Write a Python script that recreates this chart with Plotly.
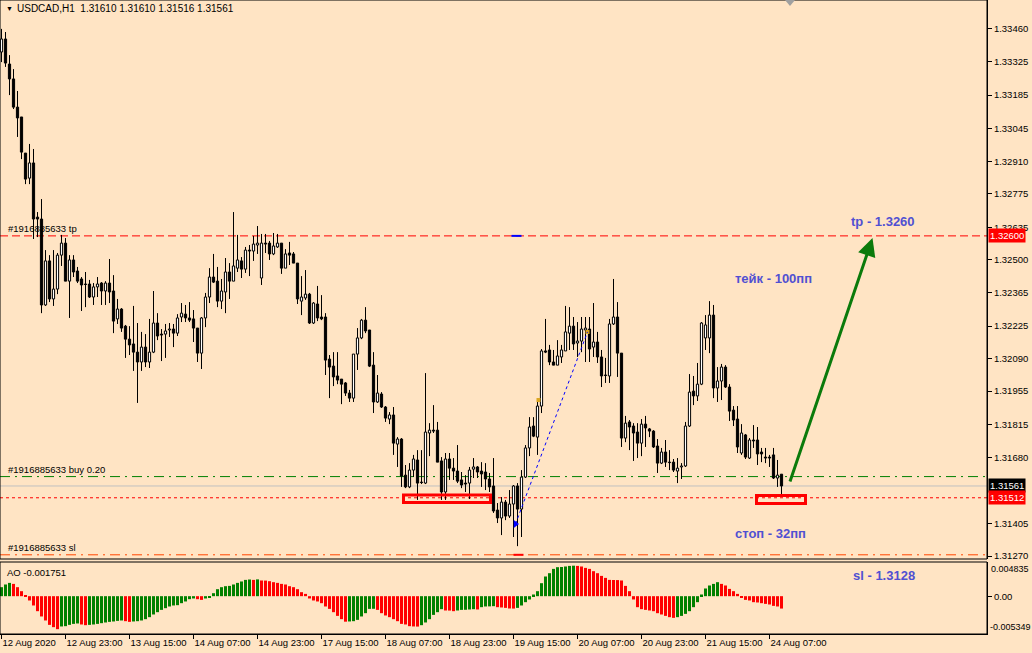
import plotly.graph_objects as go

# ---------------- data (USDCAD H1) ----------------
tick_dates = ["12 Aug 2020", "12 Aug 23:00", "13 Aug 15:00", "14 Aug 07:00", "14 Aug 23:00",
              "17 Aug 15:00", "18 Aug 07:00", "18 Aug 23:00", "19 Aug 15:00", "20 Aug 07:00",
              "20 Aug 23:00", "21 Aug 15:00", "24 Aug 07:00"]
tick_bars = [0, 16, 32, 48, 64, 80, 96, 112, 128, 144, 160, 176, 192]

O = [1.33364,1.33418,1.33314,1.33252,1.33135,1.33094,1.32944,1.32840,
     1.32903,1.32678,1.32670,1.32313,1.32496,1.32338,1.32379,1.32520,
     1.32570,1.32412,1.32500,1.32454,1.32421,1.32400,1.32400,1.32346,
     1.32388,1.32404,1.32371,1.32404,1.32371,1.32255,1.32296,1.32225,
     1.32171,1.32151,1.32117,1.32076,1.32138,1.32076,1.32117,1.32238,
     1.32192,1.32192,1.32209,1.32213,1.32196,1.32263,1.32275,1.32259,
     1.32255,1.32217,1.32113,1.32259,1.32346,1.32429,1.32412,1.32329,
     1.32367,1.32450,1.32412,1.32466,1.32496,1.32462,1.32541,1.32537,
     1.32562,1.32425,1.32570,1.32570,1.32525,1.32554,1.32570,1.32466,
     1.32529,1.32525,1.32487,1.32329,1.32342,1.32358,1.32238,1.32317,
     1.32263,1.32263,1.32088,1.32059,1.32018,1.32005,1.31989,1.31947,
     1.31926,1.32109,1.32176,1.32250,1.32209,1.32063,1.31910,1.31943,
     1.31889,1.31839,1.31856,1.31735,1.31756,1.31606,1.31557,1.31627,
     1.31669,1.31577,1.31573,1.31781,1.31793,1.31793,1.31665,1.31536,
     1.31673,1.31635,1.31623,1.31586,1.31573,1.31573,1.31631,1.31640,
     1.31623,1.31619,1.31590,1.31561,1.31461,1.31428,1.31494,1.31436,
     1.31486,1.31561,1.31465,1.31598,1.31719,1.31810,1.31764,1.31893,
     1.32122,1.32126,1.32076,1.32063,1.32097,1.32122,1.32196,1.32225,
     1.32155,1.32163,1.32209,1.32213,1.32138,1.32159,1.32097,1.32022,
     1.32018,1.32234,1.32263,1.32113,1.31760,1.31827,1.31810,1.31785,
     1.31739,1.31818,1.31798,1.31789,1.31727,1.31656,1.31702,1.31660,
     1.31660,1.31623,1.31640,1.31644,1.31810,1.31955,1.31935,1.31984,
     1.32176,1.32176,1.32271,1.31968,1.31997,1.32055,1.31972,1.31876,
     1.31839,1.31698,1.31773,1.31677,1.31752,1.31752,1.31702,1.31681,
     1.31681,1.31690,1.31594,1.31610]

H = [1.33460,1.33447,1.33351,1.33293,1.33202,1.33094,1.32944,1.32982,
     1.32961,1.32699,1.32753,1.32541,1.32520,1.32541,1.32529,1.32604,
     1.32591,1.32520,1.32520,1.32471,1.32429,1.32450,1.32417,1.32404,
     1.32429,1.32408,1.32412,1.32504,1.32437,1.32338,1.32300,1.32230,
     1.32225,1.32309,1.32238,1.32201,1.32192,1.32255,1.32371,1.32279,
     1.32213,1.32234,1.32238,1.32234,1.32275,1.32321,1.32313,1.32325,
     1.32292,1.32217,1.32263,1.32363,1.32466,1.32525,1.32471,1.32421,
     1.32508,1.32487,1.32699,1.32604,1.32512,1.32554,1.32562,1.32600,
     1.32641,1.32608,1.32608,1.32579,1.32612,1.32608,1.32570,1.32545,
     1.32575,1.32533,1.32487,1.32433,1.32458,1.32363,1.32325,1.32392,
     1.32354,1.32279,1.32105,1.32117,1.32117,1.32005,1.31993,1.31960,
     1.32109,1.32217,1.32255,1.32304,1.32209,1.32117,1.32022,1.31951,
     1.31893,1.31868,1.31889,1.31764,1.31760,1.31648,1.31656,1.31690,
     1.31710,1.31710,1.32030,1.31822,1.31897,1.31827,1.31681,1.31698,
     1.31698,1.31677,1.31731,1.31619,1.31606,1.31640,1.31677,1.31644,
     1.31660,1.31656,1.31615,1.31677,1.31490,1.31515,1.31503,1.31544,
     1.31565,1.31573,1.31627,1.31731,1.31847,1.31847,1.31918,1.32130,
     1.32255,1.32147,1.32126,1.32167,1.32147,1.32309,1.32304,1.32263,
     1.32242,1.32263,1.32263,1.32263,1.32321,1.32201,1.32126,1.32093,
     1.32255,1.32421,1.32325,1.32113,1.31852,1.31835,1.31822,1.31822,
     1.31839,1.31852,1.31802,1.31793,1.31756,1.31719,1.31752,1.31710,
     1.31673,1.31677,1.31656,1.31827,1.32026,1.32018,1.32072,1.32242,
     1.32271,1.32329,1.32313,1.32055,1.32068,1.32063,1.31984,1.31893,
     1.31893,1.31818,1.31777,1.31760,1.31814,1.31806,1.31719,1.31719,
     1.31690,1.31719,1.31669,1.31610]

L = [1.33322,1.33302,1.33185,1.33127,1.33011,1.32919,1.32815,1.32815,
     1.32587,1.32595,1.32279,1.32309,1.32325,1.32309,1.32358,1.32475,
     1.32412,1.32259,1.32429,1.32404,1.32288,1.32304,1.32342,1.32313,
     1.32346,1.32313,1.32313,1.32321,1.32196,1.32234,1.32201,1.32093,
     1.32105,1.32039,1.31906,1.32039,1.32055,1.32051,1.32113,1.32167,
     1.32080,1.32093,1.32180,1.32138,1.32184,1.32242,1.32242,1.32242,
     1.32159,1.32076,1.32047,1.32221,1.32321,1.32404,1.32304,1.32296,
     1.32279,1.32338,1.32412,1.32450,1.32425,1.32446,1.32433,1.32496,
     1.32525,1.32396,1.32529,1.32500,1.32520,1.32550,1.32442,1.32466,
     1.32479,1.32487,1.32317,1.32271,1.32334,1.32234,1.32234,1.32246,
     1.32250,1.32022,1.31926,1.31976,1.31984,1.31901,1.31935,1.31910,
     1.31910,1.32043,1.32171,1.32196,1.32055,1.31864,1.31906,1.31885,
     1.31827,1.31818,1.31690,1.31640,1.31557,1.31552,1.31552,1.31598,
     1.31503,1.31569,1.31569,1.31685,1.31781,1.31660,1.31503,1.31503,
     1.31586,1.31586,1.31573,1.31552,1.31536,1.31507,1.31594,1.31594,
     1.31557,1.31544,1.31536,1.31449,1.31407,1.31357,1.31419,1.31428,
     1.31349,1.31311,1.31349,1.31594,1.31685,1.31764,1.31690,1.31864,
     1.32113,1.32063,1.32063,1.32063,1.32072,1.32122,1.32126,1.32126,
     1.32097,1.32117,1.32076,1.32076,1.32097,1.32072,1.31972,1.31989,
     1.31989,1.32230,1.32014,1.31723,1.31743,1.31710,1.31665,1.31677,
     1.31685,1.31723,1.31764,1.31719,1.31615,1.31652,1.31640,1.31627,
     1.31619,1.31573,1.31590,1.31640,1.31806,1.31897,1.31914,1.31980,
     1.32126,1.32113,1.31926,1.31910,1.31918,1.31968,1.31831,1.31810,
     1.31698,1.31690,1.31673,1.31673,1.31719,1.31648,1.31660,1.31656,
     1.31640,1.31590,1.31557,1.31516]

C = [1.33418,1.33318,1.33252,1.33135,1.33090,1.32948,1.32836,1.32903,
     1.32670,1.32670,1.32313,1.32496,1.32338,1.32379,1.32520,1.32570,
     1.32412,1.32500,1.32450,1.32412,1.32396,1.32398,1.32346,1.32388,
     1.32400,1.32371,1.32404,1.32367,1.32246,1.32296,1.32217,1.32171,
     1.32147,1.32117,1.32076,1.32138,1.32076,1.32117,1.32238,1.32184,
     1.32188,1.32205,1.32213,1.32196,1.32259,1.32279,1.32259,1.32250,
     1.32217,1.32113,1.32259,1.32346,1.32429,1.32408,1.32329,1.32371,
     1.32450,1.32412,1.32475,1.32500,1.32462,1.32541,1.32537,1.32566,
     1.32570,1.32570,1.32566,1.32525,1.32558,1.32570,1.32466,1.32525,
     1.32520,1.32487,1.32338,1.32346,1.32358,1.32238,1.32321,1.32259,
     1.32255,1.32084,1.32055,1.32014,1.32001,1.31984,1.31947,1.31926,
     1.32109,1.32176,1.32250,1.32205,1.32059,1.31910,1.31947,1.31889,
     1.31843,1.31856,1.31739,1.31756,1.31602,1.31557,1.31627,1.31673,
     1.31573,1.31575,1.31785,1.31793,1.31789,1.31660,1.31536,1.31673,
     1.31635,1.31623,1.31581,1.31565,1.31569,1.31627,1.31640,1.31619,
     1.31611,1.31590,1.31557,1.31457,1.31428,1.31494,1.31436,1.31486,
     1.31561,1.31465,1.31598,1.31719,1.31806,1.31768,1.31893,1.32122,
     1.32117,1.32076,1.32063,1.32101,1.32126,1.32201,1.32225,1.32151,
     1.32163,1.32213,1.32217,1.32130,1.32159,1.32097,1.32018,1.32020,
     1.32234,1.32263,1.32113,1.31760,1.31822,1.31806,1.31781,1.31739,
     1.31818,1.31802,1.31789,1.31723,1.31656,1.31702,1.31660,1.31658,
     1.31627,1.31635,1.31644,1.31810,1.31951,1.31935,1.31984,1.32238,
     1.32230,1.32271,1.31968,1.31997,1.32055,1.31972,1.31872,1.31835,
     1.31723,1.31781,1.31681,1.31752,1.31748,1.31694,1.31694,1.31677,
     1.31677,1.31594,1.31606,1.31561]

AO = [0.001273,0.001654,0.001881,0.001739,0.001273,0.000707,0.000141,-0.000608,
      -0.001315,-0.002121,-0.002870,-0.003436,-0.004058,-0.004383,-0.004666,-0.004284,
      -0.004242,-0.004058,-0.003917,-0.003860,-0.004002,-0.004101,-0.004058,-0.004002,
      -0.003917,-0.003818,-0.003719,-0.003634,-0.003577,-0.003493,-0.003436,-0.003535,
      -0.003634,-0.003577,-0.003535,-0.003436,-0.003252,-0.002969,-0.002588,-0.002262,
      -0.001937,-0.001697,-0.001456,-0.001315,-0.001273,-0.000990,-0.000749,-0.000424,
      -0.000325,-0.000424,-0.000523,-0.000325,-0.000141,0.000424,0.000990,0.001273,
      0.001414,0.001456,0.001654,0.001881,0.002079,0.002305,0.002361,0.002305,
      0.002376,0.002220,0.002206,0.002121,0.001980,0.001881,0.001739,0.001654,
      0.001414,0.001273,0.000990,0.000566,0.000325,-0.000325,-0.000608,-0.000749,
      -0.000990,-0.001456,-0.001796,-0.002262,-0.002786,-0.003252,-0.003606,-0.003577,
      -0.003535,-0.003351,-0.002870,-0.002404,-0.001796,-0.001782,-0.001937,-0.002404,
      -0.002729,-0.002969,-0.003252,-0.003535,-0.003917,-0.004002,-0.004242,-0.004284,
      -0.004299,-0.004101,-0.003719,-0.003252,-0.002644,-0.002262,-0.001838,-0.002022,
      -0.002036,-0.002121,-0.002022,-0.001937,-0.001923,-0.001881,-0.001838,-0.001881,
      -0.001555,-0.001456,-0.001442,-0.001414,-0.001555,-0.001598,-0.001654,-0.001739,
      -0.001753,-0.001654,-0.001315,-0.000848,-0.000467,0.000240,0.000707,0.001838,
      0.002786,0.003252,0.003860,0.004101,0.004129,0.004200,0.004284,0.004313,
      0.004284,0.004200,0.004002,0.003860,0.003535,0.003252,0.002870,0.002588,
      0.002305,0.002291,0.002277,0.002220,0.001456,0.000707,-0.000467,-0.001555,
      -0.001838,-0.001937,-0.002022,-0.002121,-0.002404,-0.002588,-0.002786,-0.002969,
      -0.003068,-0.002969,-0.002786,-0.002503,-0.002121,-0.001555,-0.000848,0.000240,
      0.001089,0.001513,0.001739,0.001980,0.001739,0.001513,0.001032,0.000707,
      0.000325,-0.000141,-0.000523,-0.000608,-0.000848,-0.000891,-0.000990,-0.001089,
      -0.001174,-0.001372,-0.001456,-0.001751]

price_ticks = [1.33460, 1.33325, 1.33185, 1.33045, 1.32910, 1.32775, 1.32635, 1.32500,
               1.32365, 1.32225, 1.32090, 1.31955, 1.31815, 1.31680, 1.31405, 1.31270]
ao_max, ao_min = 0.004835, -0.005349

order_id = "#1916885633"
tp_price, buy_price, sl_price, stop_line = 1.32600, 1.31600, 1.31275, 1.31512
# support zones (bar from, bar to, price low, price high)
zones = [(100.5, 122.25, 1.31492, 1.31524), (188.75, 201.0, 1.31488, 1.31521)]
# forecast arrow (bar, price) start -> end
arrow_from, arrow_to = (197.0, 1.31573), (217.75, 1.32591)
# closed trade: entry (bar, price) -> exit (bar, price)
trade_in, trade_out = (128.5, 1.31403), (146.5, 1.32201)
extra_mark = (134.25, 1.31918)

# ---------------- figure ----------------
BG = "#FFE4C4"
FONT = "Liberation Sans"
BLUE_TXT = "#5050D2"
TS = 9.5   # axis / label text size
n = len(C)
idx = list(range(n))

# wicks split so they don't cross bodies
wx, wy = [], []
for i in range(n):
    top, bot = max(O[i], C[i]), min(O[i], C[i])
    if H[i] > top:
        wx += [i, i, None]; wy += [H[i], top, None]
    if L[i] < bot:
        wx += [i, i, None]; wy += [bot, L[i], None]

bases = [min(o, c) for o, c in zip(O, C)]
heights = [max(abs(c - o), 0.000004) for o, c in zip(O, C)]
body_col = ["white" if c >= o else "black" for o, c in zip(O, C)]
ao_col = ["#008000" if (i == 0 or AO[i] > AO[i - 1]) else "#FF0000" for i in range(n)]

fig = go.Figure()
fig.add_trace(go.Bar(x=idx, y=heights, base=bases, width=0.55,
                     marker=dict(color=body_col, line=dict(color="black", width=1)),
                     xaxis="x", yaxis="y", hoverinfo="skip"))
fig.add_trace(go.Scatter(x=wx, y=wy, mode="lines", line=dict(color="black", width=1),
                         xaxis="x", yaxis="y", hoverinfo="skip"))
fig.add_trace(go.Bar(x=idx, y=AO, width=0.75, marker=dict(color=ao_col, line=dict(width=0)),
                     xaxis="x2", yaxis="y2", hoverinfo="skip"))
# trade markers
fig.add_trace(go.Scatter(x=[trade_in[0]], y=[trade_in[1]], mode="markers",
                         marker=dict(symbol="triangle-right", size=7, color="#0000FF"),
                         xaxis="x", yaxis="y", hoverinfo="skip"))
fig.add_trace(go.Scatter(x=[trade_out[0], extra_mark[0]], y=[trade_out[1], extra_mark[1]], mode="markers",
                         marker=dict(symbol="square", size=4, color="#DAA520"),
                         xaxis="x", yaxis="y", hoverinfo="skip"))

PD0 = 75 / 634    # price panel bottom (paper)
AD1 = 72 / 634    # AO panel top (paper)

shapes = []
def hline(y, color, dash, width=1):
    shapes.append(dict(type="line", xref="paper", x0=0, x1=1, yref="y", y0=y, y1=y,
                       line=dict(color=color, width=width, dash=dash), layer="below"))
hline(tp_price, "#FF0000", "8px,4px")
hline(buy_price, "#008000", "10px,5px,2px,5px")
hline(C[-1], "#C0C0C0", "solid")
hline(stop_line, "#FF0000", "3px,3px")
hline(sl_price, "#FF4500", "10px,5px,2px,5px")
for (xa, xb, ya, yb) in zones:
    shapes.append(dict(type="rect", xref="x", yref="y", x0=xa, x1=xb, y0=ya, y1=yb,
                       line=dict(color="#FF0000", width=3), fillcolor="rgba(0,0,0,0)"))
shapes.append(dict(type="line", xref="x", yref="y", x0=trade_in[0], y0=trade_in[1],
                   x1=trade_out[0], y1=trade_out[1], line=dict(color="#0000FF", width=1, dash="dot")))
shapes.append(dict(type="line", xref="x", yref="y", x0=trade_in[0] - 1, x1=trade_in[0] + 1.5,
                   y0=tp_price, y1=tp_price, line=dict(color="#0000FF", width=2)))
shapes.append(dict(type="line", xref="x", yref="y", x0=trade_in[0] - 0.5, x1=trade_in[0] + 2,
                   y0=sl_price, y1=sl_price, line=dict(color="#FF0000", width=2)))
# panel frames
shapes.append(dict(type="rect", xref="paper", yref="paper", x0=0, x1=1, y0=PD0, y1=1,
                   line=dict(color="black", width=1)))
shapes.append(dict(type="rect", xref="paper", yref="paper", x0=0, x1=1, y0=0, y1=AD1,
                   line=dict(color="black", width=1)))
# chart-shift marker
shapes.append(dict(type="path", xref="paper", yref="paper",
                   path="M 0.7953,1 L 0.8055,1 L 0.8004,0.9905 Z",
                   fillcolor="#A0A0A0", line=dict(width=0)))

ann = []
def txt(x, y, s, xref="x", yref="y", size=TS, color="black", bold=False, xa="left", ya="middle", **kw):
    ann.append(dict(x=x, y=y, xref=xref, yref=yref, text=f"<b>{s}</b>" if bold else s,
                    showarrow=False, xanchor=xa, yanchor=ya,
                    font=dict(family=FONT, size=size, color=color), **kw))

txt(15 / 987, 1 - 8 / 634, f"USDCAD,H1  {O[-1]:.5f} {H[-1]:.5f} {L[-1]:.5f} {C[-1]:.5f}", xref="paper", yref="paper", size=10)
txt(4 / 987, 1 - 8 / 634, "▼", xref="paper", yref="paper", size=7)
txt(6 / 987, tp_price, f"{order_id} tp", xref="paper", ya="bottom")
txt(6 / 987, buy_price, f"{order_id} buy 0.20", xref="paper", ya="bottom")
txt(6 / 987, sl_price, f"{order_id} sl", xref="paper", ya="bottom")
txt(5 / 987, ao_max, f"AO {AO[-1]:.6f}", xref="paper", yref="y2", ya="top", yshift=-3)
txt(211.75, 1.32658, f"tp - {tp_price:.4f}", size=13, color=BLUE_TXT, bold=True)
txt(182.75, 1.32425, "тейк - 100пп", size=13, color=BLUE_TXT, bold=True)
txt(182.75, 1.31365, "стоп - 32пп", size=13, color=BLUE_TXT, bold=True)
txt(212.25, 59 / 634, f"sl - {1.3128:.4f}", yref="paper", size=13, color=BLUE_TXT, bold=True)

# right-axis price boxes
for val, bg in [(tp_price, "#FF0000"), (C[-1], "#000000"), (stop_line, "#FF0000")]:
    ann.append(dict(x=1, y=val, xref="paper", yref="y", text=f"{val:.5f}", showarrow=False,
                    xanchor="left", yanchor="middle", xshift=1, bgcolor=bg, borderpad=1,
                    font=dict(family=FONT, size=TS, color="white")))
# AO scale extremes (drawn inside like MT4)
ann.append(dict(x=1, y=ao_max, xref="paper", yref="y2", text=f"{ao_max:.6f}", showarrow=False,
                xanchor="left", yanchor="top", xshift=2, font=dict(family=FONT, size=9, color="black")))
ann.append(dict(x=1, y=ao_min, xref="paper", yref="y2", text=f"{ao_min:.6f}", showarrow=False,
                xanchor="left", yanchor="bottom", xshift=1, font=dict(family=FONT, size=9, color="black")))
# forecast arrow
ann.append(dict(x=arrow_to[0], y=arrow_to[1], ax=arrow_from[0], ay=arrow_from[1],
                xref="x", yref="y", axref="x", ayref="y", text="", showarrow=True,
                arrowhead=2, arrowsize=1.2, arrowwidth=3, arrowcolor="#0B7A0B", standoff=0))

xr = [-0.375, 246.375]
tf = dict(family=FONT, size=TS, color="black")
fig.update_layout(
    width=1032, height=653, paper_bgcolor=BG, plot_bgcolor=BG,
    margin=dict(l=0, r=45, t=0, b=19, autoexpand=False), showlegend=False, barmode="overlay",
    font=dict(family=FONT, size=TS, color="black"),
    shapes=shapes, annotations=ann,
    xaxis=dict(domain=[0, 1], range=xr, anchor="y", showticklabels=False, showgrid=False,
               zeroline=False, showline=False, ticks=""),
    yaxis=dict(domain=[PD0, 1], range=[1.312576, 1.3358], anchor="x", side="right",
               tickvals=price_ticks, ticktext=[f"{v:.5f}" for v in price_ticks],
               ticks="outside", ticklen=4, tickcolor="black", showline=True, linecolor="black",
               showgrid=False, zeroline=False, tickfont=tf),
    xaxis2=dict(domain=[0, 1], range=xr, anchor="y2", matches="x", tickvals=tick_bars,
                ticktext=tick_dates, ticks="outside", ticklen=4, tickcolor="black", tickangle=0,
                ticklabelposition="outside right", showline=True, linecolor="black",
                showgrid=False, zeroline=False, tickfont=tf),
    yaxis2=dict(domain=[0, AD1], range=[ao_min, ao_max], anchor="x2", side="right",
                tickvals=[0], ticktext=["0.00"], ticks="outside", ticklen=4, tickcolor="black",
                showline=True, linecolor="black", showgrid=False, zeroline=False, tickfont=tf),
)

fig.write_html("out.html", config={"displayModeBar": False},
               post_script="document.body.style.margin='0';document.body.style.background='" + BG + "';")
